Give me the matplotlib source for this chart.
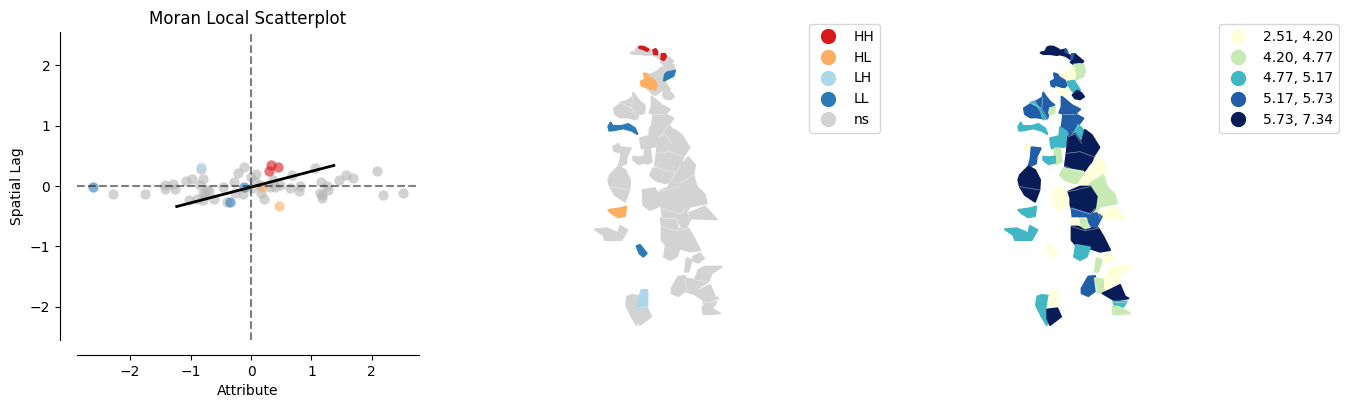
import matplotlib
matplotlib.use('Agg')
import matplotlib.pyplot as plt
from matplotlib.lines import Line2D
from matplotlib.patches import Polygon

W, H = 1349, 409

# scatter values
ns_x = [-2.29, -1.75, -1.42, -1.43, -1.29, -1.25, -1.07, -0.98, -0.79, -0.83, -0.84, -0.73, -0.79, -0.70, -0.76,
        -1.02, -0.90, -0.79, -0.61, -0.46, -0.40, -0.28, -0.21, -0.12, -0.13, -0.26, 0.00, 0.09, 0.07, 0.15, 0.01,
        0.16, 0.22, 0.31, 0.40, 0.48, 0.37, 0.68, 0.64, 0.81, 0.80, 1.06, 1.15, 1.14, 1.17, 1.17, 1.25, 1.28, 1.45,
        1.57, 1.68, 2.08, 2.19, 2.51]
ns_y = [-0.14, -0.14, 0.02, -0.05, 0.03, -0.05, 0.08, 0.12, 0.12, 0.28, 0.02, -0.07, -0.11, -0.09, -0.15,
        -0.24, -0.22, -0.24, -0.22, -0.02, -0.26, 0.06, 0.21, 0.31, -0.14, -0.12, 0.15, 0.20, 0.07, 0.02, -0.04,
        -0.12, -0.21, -0.01, -0.02, 0.02, 0.10, 0.18, -0.04, 0.00, -0.08, 0.29, 0.07, -0.12, -0.15, -0.20, 0.00,
        -0.07, 0.10, 0.19, 0.14, 0.25, -0.15, -0.11]
hh_x = [0.33, 0.45, 0.30]
hh_y = [0.34, 0.32, 0.25]
hl_x = [0.46, 0.18]
hl_y = [-0.33, -0.01]
lh_x = [-0.82]
lh_y = [0.32]
ll_x = [-2.62, -0.35, -0.11]
ll_y = [-0.02, -0.27, -0.01]
fit_x = [-1.23, 1.37]
fit_y = [-0.34, 0.34]

# map outlines, one per region
outlines = [
    [(122, 38), (135, 35), (142, 22), (150, 20), (165, 28), (178, 32), (185, 42), (170, 45), (150, 42), (130, 42)],
    [(148, 20), (160, 20), (176, 28), (172, 33), (158, 27), (148, 24)],
    [(190, 30), (197, 27), (202, 35), (202, 43), (192, 42)],
    [(178, 32), (190, 30), (192, 42), (205, 44), (212, 48), (212, 58), (198, 48), (183, 44)],
    [(215, 42), (225, 42), (228, 50), (222, 60), (214, 58)],
    [(226, 44), (238, 54), (250, 64), (240, 72), (222, 74), (212, 66), (222, 60)],
    [(240, 72), (250, 75), (255, 92), (232, 97), (225, 103), (222, 74)],
    [(232, 97), (255, 92), (250, 108), (222, 122), (225, 103)],
    [(178, 103), (190, 100), (200, 95), (215, 82), (222, 85), (225, 105), (222, 122), (205, 122), (195, 118), (178, 108)],
    [(162, 100), (172, 103), (178, 112), (195, 122), (200, 135), (196, 148), (185, 147), (170, 142), (155, 138), (152, 125), (165, 118)],
    [(168, 142), (185, 147), (196, 148), (205, 140), (215, 150), (205, 160), (195, 165), (185, 160), (180, 152)],
    [(203, 125), (222, 122), (240, 150), (225, 160), (215, 150), (205, 135)],
    [(218, 165), (232, 152), (245, 160), (252, 170), (240, 178), (225, 175)],
    [(72, 205), (95, 190), (115, 200), (122, 212), (128, 235), (110, 232), (90, 232), (75, 222)],
    [(92, 188), (110, 183), (125, 205), (142, 235), (130, 238), (122, 212), (112, 198)],
    [(110, 183), (128, 172), (130, 158), (138, 170), (150, 185), (163, 195), (150, 205), (142, 235), (125, 205)],
    [(150, 205), (165, 200), (163, 218), (155, 222), (147, 220)],
    [(185, 170), (195, 178), (215, 195), (240, 208), (225, 222), (205, 225), (178, 218), (185, 200)],
    [(190, 222), (225, 222), (250, 235), (235, 255), (215, 285), (200, 278), (185, 260)],
    [(180, 262), (200, 275), (205, 290), (195, 320), (155, 325), (150, 295), (178, 288)],
    [(225, 282), (235, 255), (250, 270), (255, 300), (245, 310)],
    [(205, 290), (225, 282), (245, 310), (255, 270), (275, 285), (298, 322), (280, 350), (240, 335), (200, 340)],
    [(200, 340), (240, 335), (280, 350), (270, 380), (250, 395), (220, 390), (195, 378)],
    [(165, 325), (180, 325), (185, 365), (170, 372), (163, 345)],
    [(130, 350), (145, 352), (165, 350), (165, 368), (145, 372), (130, 360)],
    [(70, 320), (85, 312), (95, 330), (85, 337), (72, 332)],
    [(95, 322), (122, 325), (110, 350), (108, 370), (85, 382), (92, 355)],
    [(55, 420), (60, 405), (85, 380), (105, 390), (120, 420), (118, 450), (105, 485), (75, 465), (60, 440)],
    [(190, 385), (220, 390), (250, 395), (240, 425), (225, 430), (195, 420), (180, 405)],
    [(270, 380), (295, 352), (315, 375), (310, 405), (270, 432), (235, 445), (240, 425)],
    [(270, 430), (310, 405), (320, 440), (345, 465), (350, 490), (300, 500), (285, 520), (280, 490)],
    [(205, 455), (240, 440), (270, 440), (290, 470), (285, 505), (270, 522), (215, 505), (205, 480)],
    [(158, 450), (195, 445), (205, 475), (205, 500), (180, 510), (160, 495)],
    [(295, 520), (345, 500), (380, 538), (300, 535)],
    [(215, 505), (270, 522), (290, 520), (305, 530), (290, 560), (275, 560), (260, 535), (218, 535)],
    [(240, 535), (258, 535), (265, 565), (255, 572), (235, 555)],
    [(212, 535), (235, 535), (238, 555), (215, 555)],
    [(215, 560), (235, 560), (255, 572), (275, 565), (295, 565), (310, 590), (330, 630), (300, 635), (270, 625), (240, 630), (215, 600)],
    [(228, 615), (270, 622), (260, 650), (240, 660), (222, 650)],
    [(310, 650), (330, 640), (342, 655), (325, 668), (310, 662)],
    [(290, 655), (305, 660), (295, 695), (285, 695)],
    [(15, 568), (50, 565), (85, 580), (90, 558), (112, 570), (95, 600), (45, 600), (40, 585)],
    [(55, 510), (90, 505), (108, 500), (105, 528), (85, 532), (65, 520)],
    [(140, 618), (150, 615), (170, 640), (160, 650), (148, 640)],
    [(245, 745), (265, 710), (285, 708), (290, 750), (265, 768), (245, 760)],
    [(285, 715), (315, 720), (315, 745), (305, 760), (290, 755)],
    [(325, 690), (345, 680), (395, 680), (365, 700), (355, 725), (330, 740), (315, 755), (315, 720)],
    [(308, 760), (330, 750), (360, 735), (375, 770), (385, 775), (345, 782)],
    [(340, 785), (380, 785), (370, 800), (345, 800)],
    [(338, 800), (355, 800), (390, 820), (360, 822), (340, 822)],
    [(125, 765), (148, 768), (142, 800), (145, 810), (140, 855), (125, 830), (108, 795), (112, 770)],
    [(155, 750), (172, 750), (172, 800), (142, 805), (148, 770)],
    [(142, 808), (172, 805), (183, 830), (150, 855), (142, 835)],
    [(55, 260), (62, 248), (68, 258), (95, 258), (115, 252), (135, 265), (142, 282), (125, 272), (100, 265), (75, 270), (58, 272)],
]
# faint lines between neighbouring regions
borders = [
    [(95, 190), (125, 205), (142, 235)],
    [(128, 172), (125, 205)],
    [(190, 222), (225, 222)],
    [(235, 255), (215, 285)],
    [(205, 290), (225, 282), (245, 310)],
    [(200, 340), (240, 335), (280, 350)],
    [(195, 378), (220, 390), (250, 395)],
    [(270, 380), (240, 425)],
    [(270, 430), (310, 405)],
    [(215, 505), (270, 522), (285, 505)],
    [(218, 535), (260, 535), (265, 565)],
    [(295, 520), (300, 535)],
    [(215, 560), (255, 572), (295, 565)],
    [(285, 715), (290, 755)],
    [(315, 720), (355, 725)],
    [(340, 785), (380, 785)],
    [(142, 805), (172, 800)],
    [(60, 440), (118, 450)],
    [(205, 455), (270, 440)],
]
clusters = ['ns', 'HH', 'HH', 'ns', 'HH', 'ns', 'ns', 'LL', 'ns', 'HL', 'ns', 'ns', 'ns', 'ns', 'ns', 'ns', 'ns', 'ns',
            'ns', 'ns', 'ns', 'ns', 'ns', 'ns', 'ns', 'ns', 'ns', 'ns', 'ns', 'ns', 'ns', 'ns', 'ns', 'ns', 'ns', 'ns',
            'ns', 'ns', 'ns', 'ns', 'ns', 'ns', 'HL', 'LL', 'ns', 'ns', 'ns', 'ns', 'ns', 'ns', 'ns', 'LH', 'ns', 'LL']
bins = [4, 4, 3, 4, 3, 4, 1, 1, 0, 3, 0, 2, 4, 3, 2, 3, 1, 3, 3, 2, 2, 4, 4, 1, 2, 0, 3, 4, 1, 0, 1, 4, 0, 0, 3, 1,
        0, 4, 2, 0, 1, 2, 2, 0, 3, 1, 0, 4, 2, 1, 2, 0, 4, 2]

cluster_labels = ['HH', 'HL', 'LH', 'LL', 'ns']
bin_labels = ['2.51, 4.20', '4.20, 4.77', '4.77, 5.17', '5.17, 5.73', '5.73, 7.34']

cluster_colors = {'HH': '#d7191c', 'HL': '#fdae61', 'LH': '#abd9e9', 'LL': '#2c7bb6', 'ns': 'lightgrey'}
bin_colors = ['#ffffd9', '#c7e9b4', '#41b6c4', '#225ea8', '#081d58']


def px_axes(fig, x0, y0, x1, y1):
    return fig.add_axes([x0 / W, 1 - y1 / H, (x1 - x0) / W, (y1 - y0) / H])


def draw_map(ax, colors, on_top=()):
    # a stroke in the region's own colour closes the gaps between neighbours
    for i, (outline, color) in enumerate(zip(outlines, colors)):
        z = 3 if i in on_top else 2
        ax.add_patch(Polygon(outline, closed=True, facecolor=color, edgecolor=color, linewidth=1.5,
                             joinstyle='round', zorder=z))
    for line in borders:
        ax.plot(*zip(*line), color='white', alpha=0.5, linewidth=0.5, zorder=4)
    ax.set_xlim(0, 420)
    ax.set_ylim(870, 0)
    ax.axis('off')


def add_legend(fig, labels, colors, x0):
    handles = [Line2D([], [], linestyle='none', marker='o', markersize=10, color=c) for c in colors]
    fig.legend(handles, labels, loc='upper left', bbox_to_anchor=(x0 / W, 1 - 24 / H),
               borderaxespad=0, fontsize=10)


fig = plt.figure(figsize=(W / 100, H / 100), dpi=100)

# scatterplot
ax = px_axes(fig, 77, 32, 419, 340)
ax.scatter(ns_x, ns_y, s=55, color='#b4b4b4', alpha=0.6, linewidths=0)
ax.scatter(hh_x, hh_y, s=55, color=cluster_colors['HH'], alpha=0.6, linewidths=0)
ax.scatter(hl_x, hl_y, s=55, color=cluster_colors['HL'], alpha=0.6, linewidths=0)
ax.scatter(lh_x, lh_y, s=55, color=cluster_colors['LH'], alpha=0.6, linewidths=0)
ax.scatter(ll_x, ll_y, s=55, color=cluster_colors['LL'], alpha=0.6, linewidths=0)
ax.axvline(0, color='k', alpha=0.5, linestyle='--', linewidth=1.5)
ax.axhline(0, color='k', alpha=0.5, linestyle='--', linewidth=1.5)
ax.plot(fit_x, fit_y, color='k', linewidth=2)
ax.set_xlim(-2.88, 2.78)
ax.set_ylim(-2.55, 2.55)
ax.set_xticks([-2, -1, 0, 1, 2])
ax.set_yticks([-2, -1, 0, 1, 2])
ax.spines['top'].set_visible(False)
ax.spines['right'].set_visible(False)
ax.spines['left'].set_position(('outward', 12.2))
ax.spines['bottom'].set_position(('outward', 10.8))
ax.set_title('Moran Local Scatterplot', fontsize=12)
ax.set_xlabel('Attribute')
ax.set_ylabel('Spatial Lag')

# cluster map
highlighted = [i for i, c in enumerate(clusters) if c != 'ns']
ax2 = px_axes(fig, 590, 40, 730, 330)
draw_map(ax2, [cluster_colors[c] for c in clusters], highlighted)
add_legend(fig, cluster_labels, [cluster_colors[c] for c in cluster_labels], 809)

# value map
ax3 = px_axes(fig, 1000, 40, 1140, 330)
draw_map(ax3, [bin_colors[b] for b in bins])
add_legend(fig, bin_labels, bin_colors, 1219)

fig.savefig('out.png', dpi=100)
